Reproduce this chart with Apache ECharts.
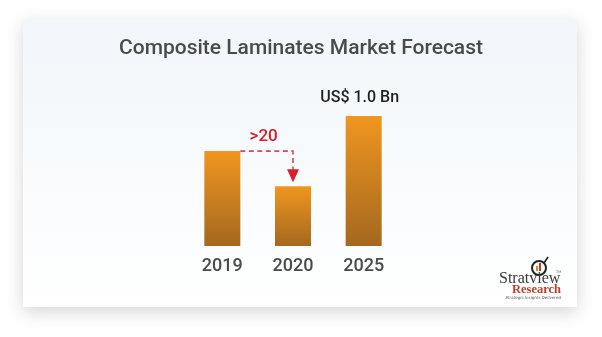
<!DOCTYPE html>
<html>
<head>
<meta charset="utf-8">
<script src="https://cdn.jsdelivr.net/npm/echarts@6/dist/echarts.min.js"></script>
<style>
html,body{margin:0;padding:0;background:#ffffff;}
#chart{width:602px;height:337px;}
</style>
</head>
<body>
<div id="chart"></div>
<script>
const categories = ['2019', '2020', '2025'];
const values = [0.73, 0.46, 1.0];
const titleText = 'Composite Laminates Market Forecast';
const topLabel = 'US$ 1.0 Bn';
const declineLabel = '>20';

const chart = echarts.init(document.getElementById('chart'), null, {renderer: 'canvas'});

const option = {
  animation: false,
  backgroundColor: '#ffffff',
  title: {
    text: titleText,
    left: 'center',
    top: 33,
    textStyle: {fontFamily: 'Roboto', fontSize: 21, fontWeight: 500, color: '#4a4a4a'}
  },
  grid: {left: 187, right: 203, top: 116, bottom: 91},
  xAxis: {
    type: 'category',
    data: categories,
    axisLine: {show: false},
    axisTick: {show: false},
    axisLabel: {margin: 11, fontFamily: 'Roboto', fontSize: 18, fontWeight: 500, color: '#4a4a4a'}
  },
  yAxis: {
    type: 'value', min: 0, max: 1.0,
    show: false, splitLine: {show: false}
  },
  series: [{
    type: 'bar',
    data: values,
    barWidth: 36,
    z: 5,
    itemStyle: {
      color: new echarts.graphic.LinearGradient(0, 0, 0, 1, [
        {offset: 0, color: '#F09620'},
        {offset: 1, color: '#A4681F'}
      ])
    },
    label: {
      show: true,
      position: 'top',
      distance: 10,
      offset: [-4, 0],
      fontFamily: 'Roboto',
      fontSize: 16,
      fontWeight: 500,
      color: '#1f1f1f',
      formatter: function (p) { return p.dataIndex === values.length - 1 ? topLabel : ''; }
    }
  }]
};
chart.setOption(option);

// annotation derived from data through the axes
const barHalf = 18;
const p2019 = chart.convertToPixel({gridIndex: 0}, [0, values[0]]);
const p2020 = chart.convertToPixel({gridIndex: 0}, [1, values[1]]);
const startX = p2019[0] + barHalf;
const lineY = p2019[1];
const cornerX = p2020[0];
const tipY = p2020[1] - 4;
const dashColor = '#D3475E';

chart.setOption({
  graphic: [
    {
      type: 'rect', z: -10, silent: true,
      shape: {x: 23, y: 19, width: 554, height: 288},
      style: {
        fill: new echarts.graphic.LinearGradient(0, 0, 0, 1, [
          {offset: 0, color: '#F1F6FA'},
          {offset: 1, color: '#FFFFFF'}
        ]),
        shadowBlur: 16, shadowColor: 'rgba(0,0,0,0.16)', shadowOffsetX: 0, shadowOffsetY: 5
      }
    },
    {
      type: 'polyline', z: 10, silent: true,
      shape: {points: [[startX, lineY], [cornerX, lineY], [cornerX, tipY - 12]]},
      style: {stroke: dashColor, lineWidth: 1.6, lineDash: [5, 3.5], fill: null}
    },
    {
      type: 'polygon', z: 10, silent: true,
      shape: {points: [[cornerX - 6, tipY - 13], [cornerX + 6, tipY - 13], [cornerX, tipY]]},
      style: {fill: '#D9202C'}
    },
    {
      type: 'text', z: 10, silent: true,
      x: (startX + cornerX) / 2 - 3, y: lineY - 6,
      style: {text: declineLabel, fontFamily: 'Roboto', fontSize: 17, fontWeight: 500, fill: '#D0202A', align: 'center', verticalAlign: 'bottom'}
    },
    // logo
    {
      type: 'circle', z: 10, silent: true,
      shape: {cx: 539, cy: 268, r: 7},
      style: {fill: '#ffffff', stroke: '#222222', lineWidth: 2}
    },
    {
      type: 'rect', z: 11, silent: true,
      shape: {x: 536, y: 266, width: 2, height: 5},
      style: {fill: '#E8861E'}
    },
    {
      type: 'rect', z: 11, silent: true,
      shape: {x: 539, y: 263, width: 2, height: 8},
      style: {fill: '#C0392B'}
    },
    {
      type: 'line', z: 10, silent: true,
      shape: {x1: 544, y1: 263, x2: 548, y2: 257},
      style: {stroke: '#222222', lineWidth: 1.6}
    },
    {
      type: 'text', z: 10, silent: true,
      x: 499, y: 279,
      style: {text: 'Stratview', fontFamily: 'Liberation Serif', fontSize: 16, fill: '#3a3a3a', verticalAlign: 'middle'}
    },
    {
      type: 'text', z: 10, silent: true,
      x: 556, y: 272,
      style: {text: 'TM', fontFamily: 'DejaVu Sans', fontSize: 3.5, fill: '#666666', verticalAlign: 'middle'}
    },
    {
      type: 'text', z: 10, silent: true,
      x: 561, y: 290,
      style: {text: 'Research', fontFamily: 'Liberation Serif', fontSize: 12.5, fontWeight: 'bold', fill: '#B5412B', align: 'right', verticalAlign: 'middle'}
    },
    {
      type: 'text', z: 10, silent: true,
      x: 561, y: 298,
      style: {text: 'Strategic Insights Delivered', fontFamily: 'DejaVu Sans', fontSize: 4, fontStyle: 'italic', fill: '#555555', align: 'right', verticalAlign: 'middle'}
    }
  ]
});
</script>
</body>
</html>
